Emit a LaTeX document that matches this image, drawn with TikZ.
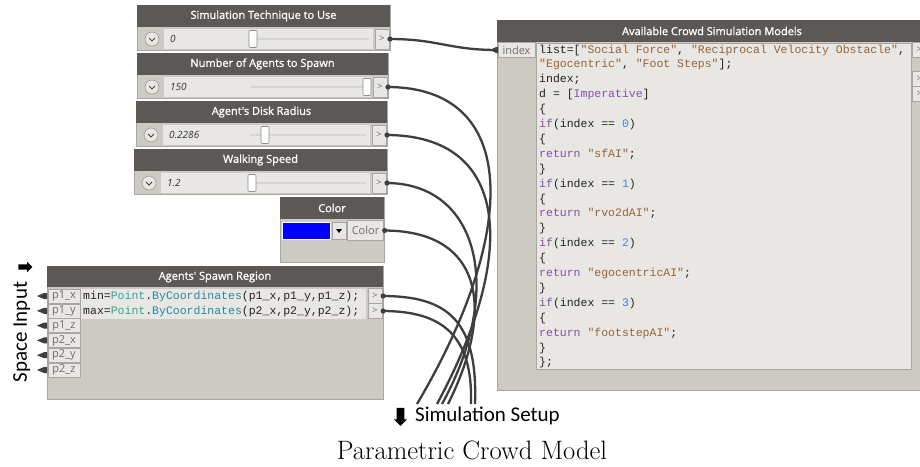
\documentclass[tikz,border=0pt]{standalone}
\usepackage{fontspec}
\newfontfamily\uifont{Open Sans}
\newfontfamily\uititle[FakeBold=1.2]{Open Sans}
\newfontfamily\codefont{Liberation Mono}
\newfontfamily\notefont{Carlito}
\usetikzlibrary{shapes,shapes.arrows,calc,positioning}

\definecolor{hdrgray}{RGB}{91,88,85}
\definecolor{bodygray}{RGB}{205,201,195}
\definecolor{rowlight}{RGB}{233,231,228}
\definecolor{framegray}{RGB}{168,166,163}
\definecolor{labelgray}{RGB}{110,108,105}
\definecolor{wiregray}{RGB}{62,62,62}
\definecolor{trackgray}{RGB}{214,212,209}
\definecolor{codetext}{RGB}{35,35,35}
\definecolor{strcol}{RGB}{150,100,55}
\definecolor{kwcol}{RGB}{135,80,165}
\definecolor{numcol}{RGB}{60,135,225}
\definecolor{ptcol}{RGB}{45,170,150}
\definecolor{bycol}{RGB}{40,135,160}

\newcommand{\cstr}[1]{\textcolor{strcol}{#1}}
\newcommand{\ckw}[1]{\textcolor{kwcol}{#1}}
\newcommand{\cnum}[1]{\textcolor{numcol}{#1}}

\tikzstyle{nodebox}=[fill=bodygray,draw=framegray,line width=0.8pt]
\tikzstyle{title}=[text=white,inner sep=0pt,font=\uititle\fontsize{11}{12}\selectfont]
\tikzstyle{portlabel}=[fill=rowlight,draw=framegray,line width=0.3pt,text=labelgray,inner sep=0pt,minimum height=14pt,font=\uifont\fontsize{11}{12}\selectfont]
\tikzstyle{outport}=[fill=rowlight,draw=framegray,line width=0.3pt,text=labelgray,inner sep=0pt,minimum width=14pt,minimum height=15pt,font=\uifont\fontsize{9}{10}\selectfont]
\tikzstyle{slidebtn}=[circle,draw=framegray,line width=0.8pt,fill=rowlight,minimum size=14pt,inner sep=0pt]
\tikzstyle{chev}=[draw=black!75,line width=1pt]
\tikzstyle{valtext}=[anchor=west,inner sep=0pt,text=black!80,font=\uifont\itshape\fontsize{10}{12}\selectfont]
\tikzstyle{track}=[draw=trackgray,line width=2.5pt]
\tikzstyle{thumb}=[rectangle,rounded corners=1pt,fill=white,draw=black!45,line width=0.6pt,minimum width=8pt,minimum height=17pt,inner sep=0pt]
\tikzstyle{wire}=[draw=wiregray,line width=2.3pt]
\tikzstyle{plug}=[fill=wiregray]
\tikzstyle{codeline}=[anchor=west,inner sep=0pt,text height=8.5pt,text depth=2.5pt,text=codetext,font=\codefont\fontsize{11.5}{14}\selectfont]
\tikzstyle{note}=[inner sep=0pt,font=\notefont\fontsize{21}{25}\selectfont]
\tikzstyle{bigarrow}=[single arrow,fill=black,single arrow head extend=2.5pt]

\begin{document}
\begin{tikzpicture}[x=1pt,y=-1pt]
    \useasboundingbox[fill=white] (0,0) rectangle (920,466);

    % number sliders
    \foreach \ytop/\lft/\rgt/\name/\head/\val/\thumb in {5/137/390/tech/{Simulation Technique to Use}/0/253, 53/137/388/agents/{Number of Agents to Spawn}/150/367, 101/136/387/radius/{Agent's Disk Radius}/0.2286/265, 149/134/387/speed/{Walking Speed}/1.2/252}
    {
        \path[nodebox] (\lft,\ytop) rectangle (\rgt,\ytop+45);
        \fill[hdrgray] (\lft,\ytop) rectangle (\rgt,\ytop+22);
        \node[title] (\name-title) at ({(\lft+\rgt)/2},\ytop+11) {\head};
        \fill[rowlight] (\lft+27,\ytop+24) rectangle (\rgt-17,\ytop+44);
        \node[slidebtn] (\name-btn) at (\lft+15,\ytop+34) {};
        \draw[chev] (\lft+12,\ytop+33) -- (\lft+15,\ytop+36) -- (\lft+18,\ytop+33);
        \node[valtext] (\name-val) at (\lft+33,\ytop+34) {\val};
        \draw[track] (\lft+114,\ytop+34) -- (\rgt-21,\ytop+34);
        \node[thumb] (\name-thumb) at (\thumb,\ytop+34) {};
        \node[outport, anchor=east, minimum height=20pt] (\name-out) at (\rgt-1,\ytop+34) {>};
    }

    % color picker
    \path[nodebox] (280,197) rectangle (384,262);
    \fill[hdrgray] (280,197) rectangle (384,219);
    \node[title] (color-title) at (332,208) {Color};
    \node[fill=blue,draw=white,line width=1pt,minimum width=48pt,minimum height=17pt,inner sep=0pt] (color-swatch) at (306.5,230.5) {};
    \node[fill=rowlight,draw=framegray,line width=0.4pt,minimum width=14pt,minimum height=17pt,inner sep=0pt] (color-drop) at (339,230.5) {};
    \fill[black] (336,229) -- (342,229) -- (339,233) -- cycle;
    \node[portlabel, minimum width=36pt, minimum height=20pt] (color-out) at (365.5,230.5) {Color};

    % code block with the four points
    \path[nodebox] (47,266) rectangle (383,399);
    \fill[hdrgray] (47,266) rectangle (383,287);
    \node[title] (spawn-title) at (215,277) {Agents' Spawn Region};
    \fill[rowlight] (81,289) rectangle (366,318.5);
    \foreach \lbl [count=\i from 0] in {p1\_x,p1\_y,p1\_z,p2\_x,p2\_y,p2\_z}
    {
        \node[portlabel, minimum width=32pt] (spawn-in\i) at (64,296+\i*14.8) {\lbl};
        \fill[plug] (37,296+\i*14.8) -- (44,293+\i*14.8) -- (47,293+\i*14.8) -- (47,299+\i*14.8) -- (44,299+\i*14.8) -- cycle;
    }
    \node[codeline] (spawn-code1) at (83,296) {min=\textcolor{ptcol}{Point}.\textcolor{bycol}{ByCoordinates}(p1\_x,p1\_y,p1\_z);};
    \node[codeline] (spawn-code2) at (83,311) {max=\textcolor{ptcol}{Point}.\textcolor{bycol}{ByCoordinates}(p2\_x,p2\_y,p2\_z);};
    \node[outport] (spawn-min) at (375,296) {>};
    \node[outport] (spawn-max) at (375,311) {>};

    % models code block
    \path[nodebox] (497,20) rectangle (925,390);
    \fill[hdrgray] (497,20) rectangle (925,42);
    \node[title] (models-title) at (712,31) {Available Crowd Simulation Models};
    \path[fill=rowlight,draw=framegray,line width=0.4pt] (536,43) rectangle (911,369);
    \node[portlabel, minimum width=37pt, minimum height=15pt] (models-index) at (516.5,50) {index};
    \foreach \yy in {50,79,94}
        \node[outport, anchor=west] (models-out\yy) at (912,\yy) {>};
    \foreach \line [count=\i from 0] in {{list=[\cstr{"Social Force"}, \cstr{"Reciprocal Velocity Obstacle"},},
        {\cstr{"Egocentric"}, \cstr{"Foot Steps"}];}, {index;}, {d = [\ckw{Imperative}]},
        {\{}, {\ckw{if}(index == \cnum{0})}, {\{}, {\ckw{return} \cstr{"sfAI"};}, {\}},
        {\ckw{if}(index == \cnum{1})}, {\{}, {\ckw{return} \cstr{"rvo2dAI"};}, {\}},
        {\ckw{if}(index == \cnum{2})}, {\{}, {\ckw{return} \cstr{"egocentricAI"};}, {\}},
        {\ckw{if}(index == \cnum{3})}, {\{}, {\ckw{return} \cstr{"footstepAI"};}, {\}}, {\};}}
        \node[codeline] (models-line\i) at (539,50+\i*14.9) {\line};

    % loose ends of the wires, the setup node is below
    \coordinate (setup-a) at (417,404);
    \coordinate (setup-b) at (437,404);
    \coordinate (setup-c) at (442,404);
    \coordinate (setup-d) at (448,404);
    \coordinate (setup-e) at (471,404);
    \coordinate (setup-f) at (475,404);

    % wires
    \draw[wire] (tech-out.east) .. controls +(50,0) and +(-50,0) .. (models-index.west);
    \fill[plug] (490,50) -- (496,47) -- (498,47) -- (498,53) -- (496,53) -- cycle;
    \foreach \src/\dst/\ax/\ay/\bx/\by in {agents-out/setup-a/132/0/103/-174, radius-out/setup-b/122/0/83/-154, speed-out/setup-c/93/0/63/-114, color-out/setup-d/100/0/47/-94, spawn-min/setup-f/65/0/3/-84, spawn-max/setup-e/60/0/2/-69}
        \draw[wire] (\src.east) .. controls +(\ax,\ay) and +(\bx,\by) .. (\dst);
    \foreach \src in {tech-out,agents-out,radius-out,speed-out,color-out,spawn-min,spawn-max}
        \fill[plug] ($(\src.east)+(1,0)$) circle (2.6pt);

    % annotations
    \node[bigarrow, minimum height=14pt, minimum width=10pt, inner sep=2.5pt] (space-arrow) at (24,267) {};
    \node[note, rotate=90, anchor=base] (space-label) at (27,332) {Space Input};
    \node[bigarrow, shape border rotate=270, minimum height=18pt, minimum width=13pt, inner sep=3.5pt] (setup-arrow) at (400.5,415) {};
    \node[note, anchor=base west] (setup-label) at (415,421) {Simulation Setup};
    \node[inner sep=0pt, font=\fontsize{26.6}{31}\selectfont, anchor=base] (caption) at (472,459) {Parametric Crowd Model};
\end{tikzpicture}
\end{document}
